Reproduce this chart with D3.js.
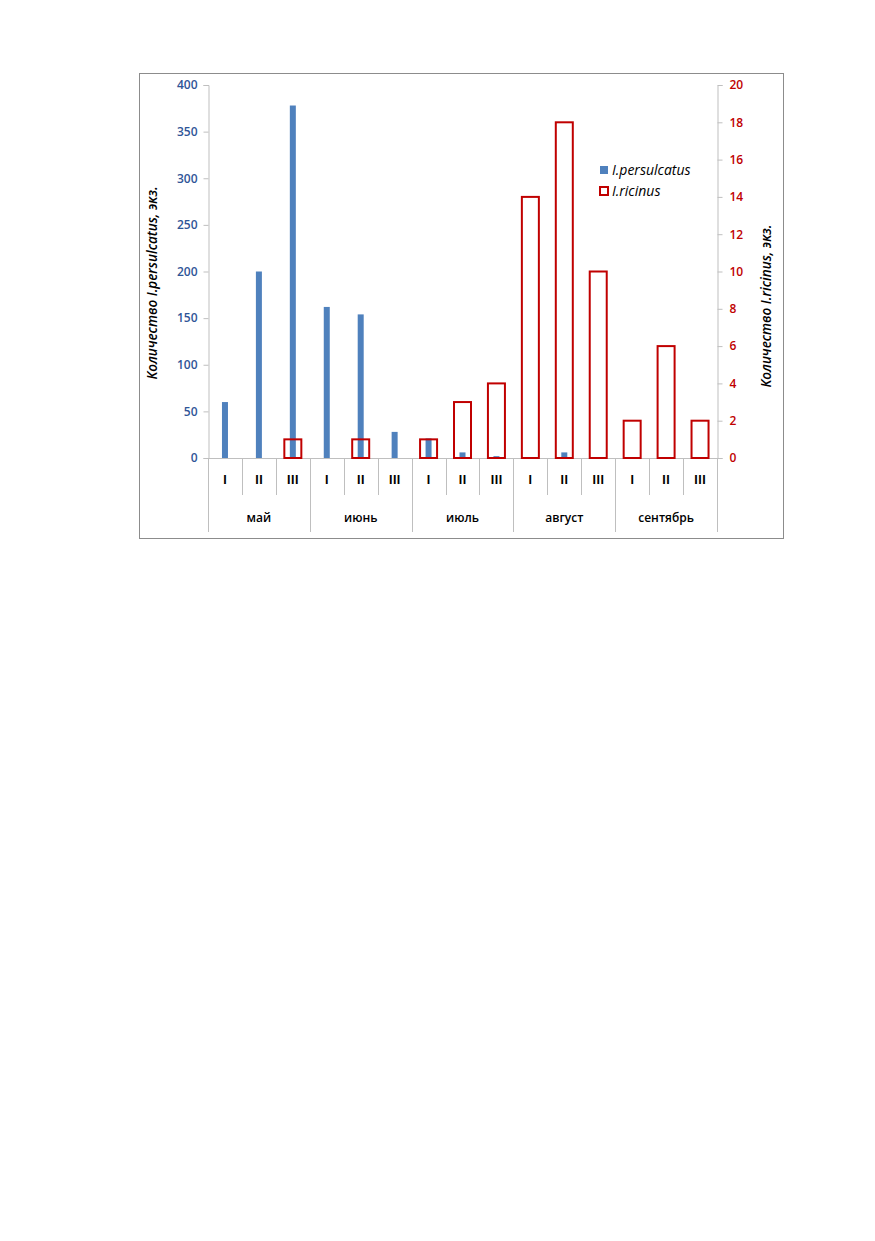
<!DOCTYPE html>
<html>
<head>
<meta charset="utf-8">
<script src="https://cdn.jsdelivr.net/npm/d3@7"></script>
<style>
  body { margin: 0; background: #fff; }
  svg text { font-family: "Open Sans", "DejaVu Sans", sans-serif; }
</style>
</head>
<body>
<div id="chart"></div>
<script>
// decades (I, II, III) within each month
var months = ["май", "июнь", "июль", "август", "сентябрь"];
var decades = ["I", "II", "III"];
// I.persulcatus, left axis
var persulcatus = [60, 200, 378, 162, 154, 28, 21, 6, 2, 1, 6, 0, 0, 0, 0];
// I.ricinus, right axis
var ricinus = [0, 0, 1, 0, 1, 0, 1, 3, 4, 14, 18, 10, 2, 6, 2];
var leftTicks = [0, 50, 100, 150, 200, 250, 300, 350, 400];
var rightTicks = [0, 2, 4, 6, 8, 10, 12, 14, 16, 18, 20];

var blue = "#4f81bd", red = "#c00000", axisBlue = "#2f5597", grid = "#bfbfbf";

var svg = d3.select("#chart").append("svg")
    .attr("width", 875)
    .attr("height", 1241);

// outer chart frame
svg.append("rect")
    .attr("x", 139.5).attr("y", 73.5)
    .attr("width", 644).attr("height", 465)
    .attr("fill", "#fff").attr("stroke", "#8c8c8c").attr("stroke-width", 1);

var margin = {left: 208, right: 717, top: 85, bottom: 458};

var cats = [];
months.forEach(function(m) {
  decades.forEach(function(d) { cats.push(m + "-" + d); });
});

var x = d3.scaleBand().domain(cats).range([margin.left, margin.right]);
var yL = d3.scaleLinear().domain([0, 400]).range([margin.bottom, margin.top]);
var yR = d3.scaleLinear().domain([0, 20]).range([margin.bottom, margin.top]);

// left axis
var gL = svg.append("g").attr("transform", "translate(" + (margin.left + 0.5) + ",0)")
    .call(d3.axisLeft(yL).tickValues(leftTicks).tickSize(5).tickPadding(6));
gL.select(".domain").attr("stroke", grid);
gL.selectAll(".tick line").attr("stroke", grid);
gL.selectAll(".tick text").attr("fill", axisBlue)
    .style("font-size", "12px").style("font-weight", "600");

// right axis
var gR = svg.append("g").attr("transform", "translate(" + (margin.right + 0.5) + ",0)")
    .call(d3.axisRight(yR).tickValues(rightTicks).tickSize(5).tickPadding(7));
gR.select(".domain").attr("stroke", grid);
gR.selectAll(".tick line").attr("stroke", grid);
gR.selectAll(".tick text").attr("fill", red)
    .style("font-size", "12px").style("font-weight", "600");

// category axis: baseline, decade separators, month separators
svg.append("line")
    .attr("x1", margin.left).attr("x2", margin.right)
    .attr("y1", margin.bottom + 0.5).attr("y2", margin.bottom + 0.5)
    .attr("stroke", grid);

cats.forEach(function(c, i) {
  var xx = Math.round(x(c)) + 0.5;
  var isMonth = i % 3 === 0;
  svg.append("line")
      .attr("x1", xx).attr("x2", xx)
      .attr("y1", margin.bottom).attr("y2", isMonth ? 532 : 495)
      .attr("stroke", grid);
});
svg.append("line")
    .attr("x1", margin.right + 0.5).attr("x2", margin.right + 0.5)
    .attr("y1", margin.bottom).attr("y2", 532)
    .attr("stroke", grid);

svg.selectAll("text.decade").data(cats).enter().append("text")
    .attr("class", "decade")
    .attr("x", function(d) { return x(d) + x.bandwidth() / 2; })
    .attr("y", 484)
    .attr("text-anchor", "middle")
    .style("font-size", "12px").style("font-weight", "700")
    .attr("fill", "#000")
    .text(function(d) { return d.split("-")[1]; });

svg.selectAll("text.month").data(months).enter().append("text")
    .attr("class", "month")
    .attr("x", function(d, i) { return x(cats[i * 3]) + x.bandwidth() * 1.5; })
    .attr("y", 522)
    .attr("text-anchor", "middle")
    .style("font-size", "12px").style("font-weight", "600")
    .attr("fill", "#000")
    .text(function(d) { return d; });

// I.persulcatus bars (narrow, filled)
var bw = 6;
svg.selectAll("rect.pers").data(persulcatus).enter().append("rect")
    .attr("class", "pers")
    .attr("x", function(d, i) { return x(cats[i]) + x.bandwidth() / 2 - bw / 2; })
    .attr("y", function(d) { return yL(d); })
    .attr("width", bw)
    .attr("height", function(d) { return yL(0) - yL(d); })
    .attr("fill", blue);

// I.ricinus bars (wide, outline only); zero values draw nothing
var rw = 17;
var ricData = ricinus.map(function(v, i) { return {cat: cats[i], value: v}; })
    .filter(function(d) { return d.value > 0; });
svg.selectAll("rect.ric").data(ricData).enter().append("rect")
    .attr("class", "ric")
    .attr("x", function(d) { return x(d.cat) + x.bandwidth() / 2 - rw / 2; })
    .attr("y", function(d) { return yR(d.value); })
    .attr("width", rw)
    .attr("height", function(d) { return yR(0) - yR(d.value); })
    .attr("fill", "none")
    .attr("stroke", red)
    .attr("stroke-width", 2);

// axis titles
svg.append("text")
    .attr("transform", "translate(157,283) rotate(-90)")
    .attr("text-anchor", "middle")
    .style("font-size", "13.5px").style("font-style", "italic").style("font-weight", "600")
    .attr("fill", "#000")
    .text("Количество I.persulcatus, экз.");

svg.append("text")
    .attr("transform", "translate(771,306) rotate(-90)")
    .attr("text-anchor", "middle")
    .style("font-size", "13.5px").style("font-style", "italic").style("font-weight", "600")
    .attr("fill", "#000")
    .text("Количество I.ricinus, экз.");

// legend
var legend = [{name: "I.persulcatus", fill: blue, stroke: "none"},
              {name: "I.ricinus", fill: "none", stroke: red}];
var lg = svg.selectAll("g.leg").data(legend).enter().append("g")
    .attr("class", "leg")
    .attr("transform", function(d, i) { return "translate(600," + (166 + i * 21) + ")"; });
lg.append("rect")
    .attr("x", 0)
    .attr("y", 0)
    .attr("width", function(d) { return d.stroke === "none" ? 8 : 8; })
    .attr("height", 8)
    .attr("fill", function(d) { return d.fill; })
    .attr("stroke", function(d) { return d.stroke; })
    .attr("stroke-width", 2);
lg.append("text")
    .attr("x", 12).attr("y", 9)
    .style("font-size", "14px").style("font-style", "italic")
    .attr("fill", "#000")
    .text(function(d) { return d.name; });
</script>
</body>
</html>
